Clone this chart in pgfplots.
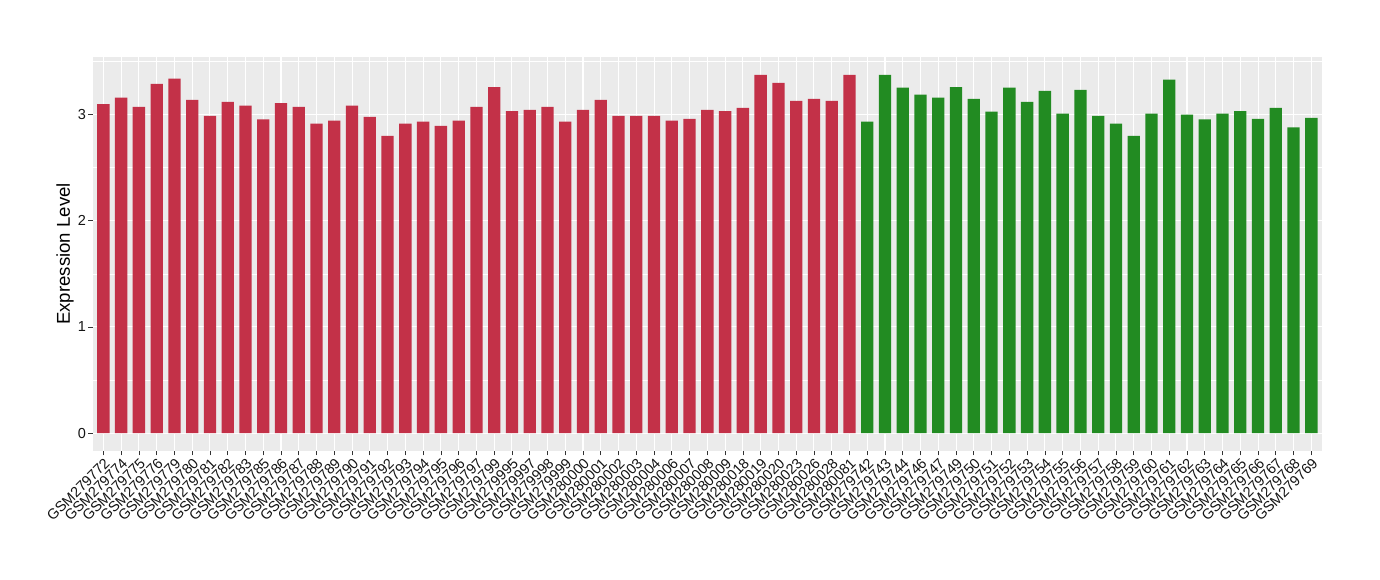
\documentclass[border=0pt]{standalone}
\usepackage{fontspec}
\setmainfont{Liberation Sans}
\usepackage{pgfplots}
\usepackage{pgfplotstable}
\pgfplotsset{compat=1.18}
\definecolor{barred}{RGB}{195,49,72}
\definecolor{bargreen}{RGB}{34,139,34}
\definecolor{panelbg}{RGB}{235,235,235}
\definecolor{tickgray}{RGB}{51,51,51}
\definecolor{labgray}{RGB}{20,20,20}

\pgfplotstableread{
x y
1 3.10
2 3.16
3 3.075
4 3.29
5 3.34
6 3.14
7 2.99
8 3.12
9 3.085
10 2.955
11 3.11
12 3.075
13 2.915
14 2.945
15 3.085
16 2.98
17 2.80
18 2.915
19 2.935
20 2.895
21 2.945
22 3.075
23 3.26
24 3.035
25 3.045
26 3.075
27 2.935
28 3.045
29 3.14
30 2.99
31 2.99
32 2.99
33 2.945
34 2.96
35 3.045
36 3.035
37 3.065
38 3.375
39 3.30
40 3.13
41 3.15
42 3.13
43 3.375
}\redtab

\pgfplotstableread{
x y
44 2.935
45 3.375
46 3.255
47 3.19
48 3.16
49 3.26
50 3.15
51 3.03
52 3.255
53 3.12
54 3.225
55 3.01
56 3.235
57 2.99
58 2.915
59 2.80
60 3.01
61 3.33
62 3.00
63 2.955
64 3.01
65 3.035
66 2.96
67 3.065
68 2.88
69 2.97
}\greentab

\begin{document}
\begin{tikzpicture}[x=1pt,y=1pt]
\path (0,0) rectangle (1380,580);
\begin{axis}[
  at={(92.7pt,129pt)}, anchor=south west,
  scale only axis, width=1229.3pt, height=394pt,
  xmin=0.4, xmax=69.6, ymin=-0.169, ymax=3.544,
  axis background/.style={fill=panelbg},
  axis line style={draw=none},
  xtick={1,...,69},
  xticklabels={GSM279772,GSM279774,GSM279775,GSM279776,GSM279779,GSM279780,GSM279781,GSM279782,GSM279783,GSM279785,GSM279786,GSM279787,GSM279788,GSM279789,GSM279790,GSM279791,GSM279792,GSM279793,GSM279794,GSM279795,GSM279796,GSM279797,GSM279799,GSM279995,GSM279997,GSM279998,GSM279999,GSM280000,GSM280001,GSM280002,GSM280003,GSM280004,GSM280006,GSM280007,GSM280008,GSM280009,GSM280018,GSM280019,GSM280020,GSM280023,GSM280026,GSM280028,GSM280081,GSM279742,GSM279743,GSM279744,GSM279746,GSM279747,GSM279749,GSM279750,GSM279751,GSM279752,GSM279753,GSM279754,GSM279755,GSM279756,GSM279757,GSM279758,GSM279759,GSM279760,GSM279761,GSM279762,GSM279763,GSM279764,GSM279765,GSM279766,GSM279767,GSM279768,GSM279769},
  ytick={0,1,2,3},
  minor ytick={0.5,1.5,2.5,3.5},
  xmajorgrids, ymajorgrids, yminorgrids,
  major grid style={white, line width=1.1pt},
  minor grid style={white, line width=0.55pt},
  tick align=outside,
  major tick length=4.5pt, minor tick length=0pt,
  tick style={tickgray, line width=0.75pt},
  xtick pos=bottom, ytick pos=left,
  /pgf/number format/assume math mode=true,
  ticklabel style={font=\fontsize{14.5}{17}\selectfont, text=labgray},
  xticklabel style={rotate=45, anchor=north east, inner sep=1pt},
  yticklabel style={inner sep=2pt},
  ylabel={Expression Level},
  every axis y label/.style={at={(axis description cs:0,0.5)}, xshift=-27.7pt, rotate=90, anchor=center, font=\fontsize{18.6}{22}\selectfont},
]
\addplot[ybar, bar width=12.3pt, bar shift=0pt, fill=barred, draw=none] table[x=x,y=y] {\redtab};
\addplot[ybar, bar width=12.3pt, bar shift=0pt, fill=bargreen, draw=none] table[x=x,y=y] {\greentab};
\end{axis}
\end{tikzpicture}
\end{document}
